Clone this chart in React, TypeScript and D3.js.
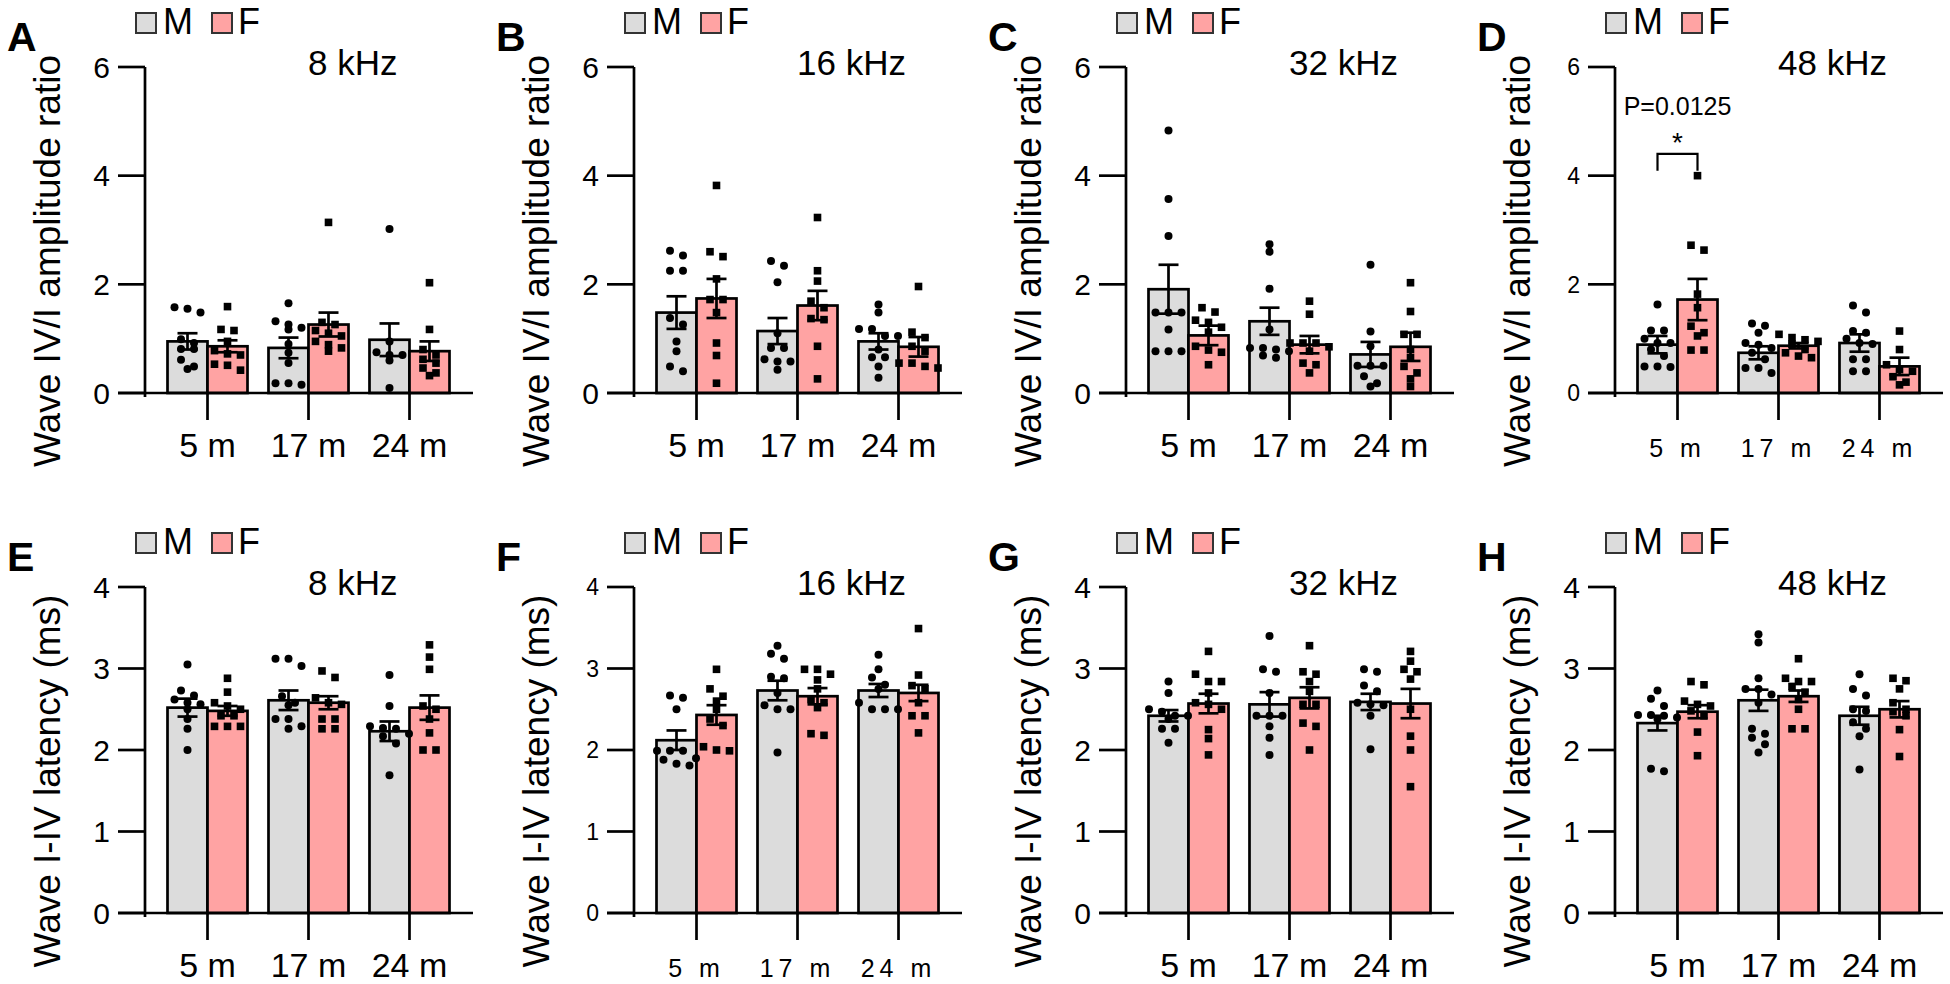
import React from "react";
import * as d3 from "d3";

// ---------- data ----------
const AGES = ["5 m", "17 m", "24 m"];
const SEXES = ["M", "F"];
const FREQS = ["8 kHz", "16 kHz", "32 kHz", "48 kHz"];
const AMP_TICKS = [0, 2, 4, 6];
const LAT_TICKS = [0, 1, 2, 3, 4];
const AMP_LABEL = "Wave IV/I amplitude ratio";
const LAT_LABEL = "Wave I-IV latency (ms)";

// A: amplitude 8 kHz
const A_M_MEAN = [0.95, 0.83, 0.98];
const A_M_SEM = [0.15, 0.19, 0.3];
const A_F_MEAN = [0.86, 1.26, 0.77];
const A_F_SEM = [0.11, 0.22, 0.18];
const A_M_PTS = [
  [1.58, 1.55, 1.48, 0.99, 0.92, 0.81, 0.81, 0.61, 0.49, 0.44],
  [1.65, 1.32, 1.26, 1.2, 1.17, 0.9, 0.74, 0.55, 0.18, 0.15, 0.18],
  [3.02, 0.95, 0.75, 0.7, 0.7, 0.6, 0.09],
];
const A_F_PTS = [
  [1.59, 1.17, 1.15, 0.95, 0.78, 0.72, 0.7, 0.53, 0.51, 0.42],
  [3.14, 1.3, 1.26, 1.15, 1.1, 1.05, 0.95, 0.89, 0.83, 0.77],
  [2.03, 1.17, 0.8, 0.7, 0.62, 0.55, 0.46, 0.37, 0.32],
];

// B: amplitude 16 kHz
const B_M_MEAN = [1.48, 1.14, 0.95];
const B_M_SEM = [0.3, 0.24, 0.15];
const B_F_MEAN = [1.74, 1.61, 0.85];
const B_F_SEM = [0.36, 0.27, 0.18];
const B_M_PTS = [
  [2.62, 2.53, 2.25, 2.25, 1.38, 1.26, 0.95, 0.77, 0.49, 0.4],
  [2.43, 2.34, 2.04, 1.1, 0.83, 0.83, 0.62, 0.58, 0.58, 0.43],
  [1.63, 1.48, 1.18, 1.18, 1.05, 1.05, 0.8, 0.66, 0.66, 0.49, 0.28],
];
const B_F_PTS = [
  [3.82, 2.6, 2.51, 2.1, 1.72, 1.72, 1.48, 0.92, 0.69, 0.18],
  [3.23, 2.25, 2.06, 1.69, 1.57, 1.37, 1.35, 0.86, 0.26],
  [1.96, 1.12, 1.02, 0.86, 0.77, 0.55, 0.55, 0.49, 0.46],
];

// C: amplitude 32 kHz
const C_M_MEAN = [1.91, 1.32, 0.71];
const C_M_SEM = [0.45, 0.25, 0.23];
const C_F_MEAN = [1.06, 0.89, 0.85];
const C_F_SEM = [0.18, 0.16, 0.26];
const C_M_PTS = [
  [4.83, 3.57, 2.89, 1.48, 1.48, 1.48, 1.17, 0.77, 0.77, 0.77],
  [2.74, 2.6, 1.92, 1.17, 0.83, 0.83, 0.8, 0.77, 0.69, 0.65],
  [2.36, 1.13, 0.86, 0.5, 0.5, 0.5, 0.31, 0.18, 0.12],
];
const C_F_PTS = [
  [1.57, 1.49, 1.34, 1.3, 1.21, 1.12, 0.86, 0.79, 0.75, 0.52],
  [1.69, 1.45, 0.92, 0.92, 0.92, 0.85, 0.77, 0.55, 0.52, 0.37],
  [2.03, 1.5, 1.08, 1.08, 0.8, 0.65, 0.49, 0.37, 0.26, 0.12],
];

// D: amplitude 48 kHz
const D_M_MEAN = [0.89, 0.74, 0.92];
const D_M_SEM = [0.16, 0.12, 0.16];
const D_F_MEAN = [1.72, 0.87, 0.49];
const D_F_SEM = [0.38, 0.05, 0.16];
const D_M_PTS = [
  [1.63, 1.15, 1.15, 1.0, 0.92, 0.92, 0.8, 0.68, 0.49, 0.49, 0.48],
  [1.28, 1.24, 1.11, 0.92, 0.89, 0.83, 0.74, 0.62, 0.46, 0.46, 0.37],
  [1.61, 1.48, 1.14, 1.11, 1.0, 0.92, 0.9, 0.62, 0.62, 0.4, 0.4],
];
const D_F_PTS = [
  [4.0, 2.72, 2.63, 1.82, 1.57, 1.23, 1.11, 1.05, 0.79, 0.79],
  [1.08, 1.02, 0.98, 0.95, 0.9, 0.8, 0.74, 0.68, 0.65],
  [1.14, 0.8, 0.52, 0.43, 0.4, 0.3, 0.2, 0.15],
];
const D_PVALUE = "P=0.0125";
const D_SIG_TOP = 4.4;
const D_SIG_LEG = 4.09;

// E: latency 8 kHz
const E_M_MEAN = [2.52, 2.61, 2.23];
const E_M_SEM = [0.11, 0.12, 0.12];
const E_F_MEAN = [2.48, 2.58, 2.52];
const E_F_SEM = [0.06, 0.08, 0.15];
const E_M_PTS = [
  [3.05, 2.73, 2.67, 2.62, 2.58, 2.56, 2.5, 2.38, 2.26, 2.0],
  [3.12, 3.12, 3.03, 2.66, 2.58, 2.55, 2.38, 2.38, 2.29, 2.26],
  [2.92, 2.54, 2.29, 2.27, 2.26, 2.2, 2.17, 2.08, 1.69],
];
const E_F_PTS = [
  [2.88, 2.71, 2.58, 2.54, 2.5, 2.42, 2.42, 2.29, 2.29, 2.29],
  [2.97, 2.89, 2.64, 2.58, 2.56, 2.38, 2.38, 2.26, 2.26],
  [3.29, 3.14, 2.99, 2.54, 2.5, 2.38, 2.21, 2.0, 2.0],
];

// F: latency 16 kHz
const F_M_MEAN = [2.12, 2.73, 2.73];
const F_M_SEM = [0.12, 0.12, 0.08];
const F_F_MEAN = [2.43, 2.66, 2.7];
const F_F_SEM = [0.12, 0.1, 0.1];
const F_M_PTS = [
  [2.67, 2.64, 2.5, 1.99, 1.99, 1.99, 1.9, 1.88, 1.83, 1.81],
  [3.28, 3.18, 3.12, 2.9, 2.88, 2.7, 2.55, 2.5, 2.5, 1.97],
  [3.17, 2.99, 2.89, 2.8, 2.75, 2.58, 2.5, 2.5, 2.5],
];
const F_F_PTS = [
  [2.99, 2.75, 2.66, 2.6, 2.5, 2.38, 2.3, 2.04, 2.0, 1.99],
  [2.99, 2.99, 2.93, 2.86, 2.75, 2.62, 2.58, 2.52, 2.2, 2.18],
  [3.49, 2.92, 2.79, 2.75, 2.58, 2.42, 2.42, 2.21],
];

// G: latency 32 kHz
const G_M_MEAN = [2.42, 2.56, 2.59];
const G_M_SEM = [0.07, 0.15, 0.1];
const G_F_MEAN = [2.57, 2.64, 2.57];
const G_F_SEM = [0.12, 0.13, 0.18];
const G_M_PTS = [
  [2.84, 2.7, 2.5, 2.47, 2.42, 2.42, 2.38, 2.26, 2.26, 2.09],
  [3.4, 2.99, 2.96, 2.7, 2.42, 2.42, 2.42, 2.29, 2.15, 1.94],
  [2.99, 2.96, 2.79, 2.72, 2.58, 2.56, 2.55, 2.42, 2.01],
];
const G_F_PTS = [
  [3.21, 2.93, 2.84, 2.84, 2.7, 2.58, 2.56, 2.5, 2.25, 2.14, 1.94],
  [3.28, 2.96, 2.93, 2.84, 2.72, 2.56, 2.56, 2.33, 2.29, 2.0],
  [3.21, 3.09, 2.99, 2.96, 2.87, 2.5, 2.17, 2.0, 1.55],
];

// H: latency 48 kHz
const H_M_MEAN = [2.33, 2.61, 2.42];
const H_M_SEM = [0.09, 0.13, 0.11];
const H_F_MEAN = [2.47, 2.66, 2.5];
const H_F_SEM = [0.08, 0.07, 0.1];
const H_M_PTS = [
  [2.73, 2.63, 2.54, 2.43, 2.43, 2.42, 2.4, 2.38, 1.77, 1.74],
  [3.42, 3.32, 2.88, 2.75, 2.75, 2.68, 2.58, 2.26, 2.2, 2.15, 2.07, 1.97],
  [2.93, 2.75, 2.67, 2.5, 2.48, 2.34, 2.26, 2.17, 1.76],
];
const H_F_PTS = [
  [2.84, 2.8, 2.6, 2.56, 2.54, 2.48, 2.42, 2.22, 1.93],
  [3.12, 2.88, 2.84, 2.84, 2.78, 2.71, 2.62, 2.5, 2.26, 2.26],
  [2.88, 2.85, 2.75, 2.58, 2.5, 2.47, 2.42, 2.25, 1.92],
];

// ---------- layout / style ----------
const FONT = "'Liberation Sans', Arial, Helvetica, sans-serif";
const M_FILL = "#dcdcdc";
const F_FILL = "#ffa3a3";
const COL_AX = [145, 634, 1126, 1615];
const ROW_Y0 = [393, 913];
const PLOT_H = 326;
const SW = 2.7;

type PanelCfg = {
  letter: string;
  title: string;
  row: number;
  col: number;
  ticks: number[];
  ylabel: string;
  small: boolean;
  mMean: number[];
  mSem: number[];
  fMean: number[];
  fSem: number[];
  mPts: number[][];
  fPts: number[][];
  sig?: { group: number; top: number; leg: number; label: string };
};

const PANELS: PanelCfg[] = [
  { letter: "A", title: FREQS[0], row: 0, col: 0, ticks: AMP_TICKS, ylabel: AMP_LABEL, small: false, mMean: A_M_MEAN, mSem: A_M_SEM, fMean: A_F_MEAN, fSem: A_F_SEM, mPts: A_M_PTS, fPts: A_F_PTS },
  { letter: "B", title: FREQS[1], row: 0, col: 1, ticks: AMP_TICKS, ylabel: AMP_LABEL, small: false, mMean: B_M_MEAN, mSem: B_M_SEM, fMean: B_F_MEAN, fSem: B_F_SEM, mPts: B_M_PTS, fPts: B_F_PTS },
  { letter: "C", title: FREQS[2], row: 0, col: 2, ticks: AMP_TICKS, ylabel: AMP_LABEL, small: false, mMean: C_M_MEAN, mSem: C_M_SEM, fMean: C_F_MEAN, fSem: C_F_SEM, mPts: C_M_PTS, fPts: C_F_PTS },
  { letter: "D", title: FREQS[3], row: 0, col: 3, ticks: AMP_TICKS, ylabel: AMP_LABEL, small: true, mMean: D_M_MEAN, mSem: D_M_SEM, fMean: D_F_MEAN, fSem: D_F_SEM, mPts: D_M_PTS, fPts: D_F_PTS, sig: { group: 0, top: D_SIG_TOP, leg: D_SIG_LEG, label: D_PVALUE } },
  { letter: "E", title: FREQS[0], row: 1, col: 0, ticks: LAT_TICKS, ylabel: LAT_LABEL, small: false, mMean: E_M_MEAN, mSem: E_M_SEM, fMean: E_F_MEAN, fSem: E_F_SEM, mPts: E_M_PTS, fPts: E_F_PTS },
  { letter: "F", title: FREQS[1], row: 1, col: 1, ticks: LAT_TICKS, ylabel: LAT_LABEL, small: true, mMean: F_M_MEAN, mSem: F_M_SEM, fMean: F_F_MEAN, fSem: F_F_SEM, mPts: F_M_PTS, fPts: F_F_PTS },
  { letter: "G", title: FREQS[2], row: 1, col: 2, ticks: LAT_TICKS, ylabel: LAT_LABEL, small: false, mMean: G_M_MEAN, mSem: G_M_SEM, fMean: G_F_MEAN, fSem: G_F_SEM, mPts: G_M_PTS, fPts: G_F_PTS },
  { letter: "H", title: FREQS[3], row: 1, col: 3, ticks: LAT_TICKS, ylabel: LAT_LABEL, small: false, mMean: H_M_MEAN, mSem: H_M_SEM, fMean: H_F_MEAN, fSem: H_F_SEM, mPts: H_M_PTS, fPts: H_F_PTS },
];

// deterministic column scatter (GraphPad-like): close values share a row, spread horizontally
function swarm(vals: number[], cx: number, y: (v: number) => number, step = 13, tol = 7.5, maxRow = 4) {
  const sorted = [...vals].sort((a, b) => b - a).map(y);
  const rows: number[][] = [];
  let cur: number[] = [];
  let start = 0;
  sorted.forEach((py) => {
    if (cur.length && Math.abs(py - start) < tol && cur.length < maxRow) cur.push(py);
    else {
      if (cur.length) rows.push(cur);
      cur = [py];
      start = py;
    }
  });
  if (cur.length) rows.push(cur);
  return rows.flatMap((r) => r.map((py, i) => ({ x: cx + (i - (r.length - 1) / 2) * step, y: py })));
}

function Panel({ p }: { p: PanelCfg }) {
  const ax = COL_AX[p.col];
  const y0 = ROW_Y0[p.row];
  const top = y0 - PLOT_H;
  const yMax = p.ticks[p.ticks.length - 1];
  const y = d3.scaleLinear().domain([0, yMax]).range([y0, top]);
  const xg = d3.scaleBand().domain(AGES).range([ax + 12, ax + 315]);
  const xs = d3.scaleBand().domain(SEXES).range([-40, 40]);
  const gc = (a: string) => (xg(a) as number) + xg.bandwidth() / 2;

  const tickFont = p.small ? 23 : 30;
  const xFont = p.small ? 25 : 34;
  const xSpacing = p.small ? 5 : 0;

  const series = [
    { sex: "M", mean: p.mMean, sem: p.mSem, pts: p.mPts, fill: M_FILL },
    { sex: "F", mean: p.fMean, sem: p.fSem, pts: p.fPts, fill: F_FILL },
  ];

  return (
    <g fontFamily={FONT}>
      {/* panel letter */}
      <text x={ax - 138} y={top - 16} fontSize={41} fontWeight="bold" fill="#000">
        {p.letter}
      </text>
      {/* legend */}
      <rect x={ax - 9} y={top - 54} width={20} height={20} fill={M_FILL} stroke="#333" strokeWidth={2} />
      <text x={ax + 18} y={top - 33} fontSize={36} fill="#000">M</text>
      <rect x={ax + 67} y={top - 54} width={20} height={20} fill={F_FILL} stroke="#333" strokeWidth={2} />
      <text x={ax + 93} y={top - 33} fontSize={36} fill="#000">F</text>
      {/* title */}
      <text x={ax + 163} y={top + 8} fontSize={35} fill="#000">{p.title}</text>
      {/* y label */}
      <text
        transform={`translate(${ax - 85},${y0 - 132}) rotate(-90)`}
        textAnchor="middle"
        fontSize={37}
        fill="#000"
      >
        {p.ylabel}
      </text>

      {/* bars */}
      {series.map((s) =>
        AGES.map((a, i) => {
          const x0 = gc(a) + (xs(s.sex) as number);
          return (
            <rect
              key={s.sex + a}
              x={x0}
              y={y(s.mean[i])}
              width={xs.bandwidth()}
              height={y0 - y(s.mean[i])}
              fill={s.fill}
              stroke="#000"
              strokeWidth={SW}
            />
          );
        })
      )}

      {/* points */}
      {series.map((s) =>
        AGES.map((a, i) => {
          const cx = gc(a) + (xs(s.sex) as number) + xs.bandwidth() / 2;
          return swarm(s.pts[i], cx, y).map((pt, k) =>
            s.sex === "M" ? (
              <circle key={s.sex + a + k} cx={pt.x} cy={pt.y} r={4} fill="#000" />
            ) : (
              <rect key={s.sex + a + k} x={pt.x - 3.8} y={pt.y - 3.8} width={7.6} height={7.6} fill="#000" />
            )
          );
        })
      )}

      {/* error bars */}
      {series.map((s) =>
        AGES.map((a, i) => {
          const cx = gc(a) + (xs(s.sex) as number) + xs.bandwidth() / 2;
          const hi = y(s.mean[i] + s.sem[i]);
          const lo = y(s.mean[i] - s.sem[i]);
          return (
            <g key={"e" + s.sex + a} stroke="#000" strokeWidth={SW}>
              <line x1={cx} x2={cx} y1={hi} y2={lo} />
              <line x1={cx - 10} x2={cx + 10} y1={hi} y2={hi} />
              <line x1={cx - 10} x2={cx + 10} y1={lo} y2={lo} />
            </g>
          );
        })
      )}

      {/* y axis */}
      <line x1={ax} x2={ax} y1={top} y2={y0 + 4} stroke="#000" strokeWidth={SW} />
      {p.ticks.map((t) => (
        <g key={"t" + t}>
          <line x1={ax - 27} x2={ax} y1={y(t)} y2={y(t)} stroke="#000" strokeWidth={SW} />
          <text x={ax - 35} y={y(t)} dy="0.36em" textAnchor="end" fontSize={tickFont} fill="#000">
            {t}
          </text>
        </g>
      ))}

      {/* x axis */}
      <line x1={ax - 27} x2={ax + 328} y1={y0} y2={y0} stroke="#000" strokeWidth={SW} />
      {AGES.map((a) => (
        <g key={"x" + a}>
          <line x1={gc(a)} x2={gc(a)} y1={y0} y2={y0 + 27} stroke="#000" strokeWidth={SW} />
          <text
            x={gc(a)}
            y={y0 + 64}
            textAnchor="middle"
            fontSize={xFont}
            letterSpacing={xSpacing}
            fill="#000"
          >
            {a}
          </text>
        </g>
      ))}

      {/* significance */}
      {p.sig && (() => {
        const a = AGES[p.sig.group];
        const xm = gc(a) + (xs("M") as number) + xs.bandwidth() / 2;
        const xf = gc(a) + (xs("F") as number) + xs.bandwidth() / 2;
        const yt = y(p.sig.top);
        const yl = y(p.sig.leg);
        return (
          <g>
            <path d={`M${xm},${yl}V${yt}H${xf}V${yl}`} fill="none" stroke="#000" strokeWidth={2.2} />
            <text x={(xm + xf) / 2} y={yt - 2} textAnchor="middle" fontSize={28} fill="#000">*</text>
            <text x={(xm + xf) / 2} y={yt - 39} textAnchor="middle" fontSize={25} fill="#000">{p.sig.label}</text>
          </g>
        );
      })()}
    </g>
  );
}

export default function App() {
  return (
    <svg
      width={1950}
      height={984}
      viewBox="0 0 1950 984"
      style={{ position: "absolute", left: 0, top: 0, display: "block", background: "#fff" }}
    >
      <rect x={0} y={0} width={1950} height={984} fill="#fff" />
      {PANELS.map((p) => (
        <Panel key={p.letter} p={p} />
      ))}
    </svg>
  );
}
